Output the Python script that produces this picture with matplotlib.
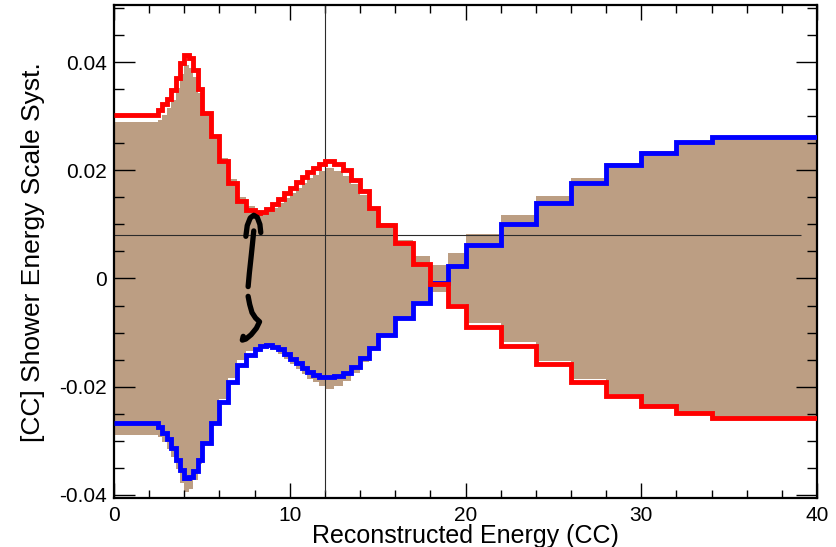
import matplotlib
matplotlib.use("Agg")
import matplotlib.pyplot as plt
import numpy as np

# ======================== DATA ========================
# variable-width bin edges of the reconstructed energy (CC)
edges = [0, 2.5, 2.75, 3.0, 3.25, 3.5, 3.75, 4.0, 4.25, 4.5, 4.75, 5.0,
         5.5, 6.0, 6.5, 7.0, 7.5, 8.0,
         8.333, 8.667, 9.0, 9.333, 9.667, 10.0, 10.333, 10.667, 11.0, 11.333, 11.667, 12.0,
         12.5, 13.0, 13.5, 14.0, 14.5, 15.0,
         16, 17, 18, 19, 20, 22, 24, 26, 28, 30, 32, 34, 40]

# shift "up" (red) and shift "down" (blue)
red = [0.0303, 0.0312, 0.0322, 0.0332, 0.0349, 0.0371, 0.0398, 0.0414, 0.0408, 0.0386, 0.0350,
       0.0307, 0.0263, 0.0217, 0.0177, 0.0143, 0.0127,
       0.0121, 0.0123, 0.0129, 0.0137, 0.0147, 0.0158, 0.0168, 0.0178, 0.0188, 0.0197, 0.0205, 0.0212,
       0.0217, 0.0212, 0.0201, 0.0183, 0.0161, 0.0130,
       0.0099, 0.0066, 0.0027, -0.0011, -0.0050,
       -0.0089, -0.0125, -0.0159, -0.0191, -0.0217, -0.0236, -0.0248, -0.0258]

blue = [-0.0268, -0.0275, -0.0285, -0.0297, -0.0313, -0.0336, -0.0355, -0.0369, -0.0368, -0.0356, -0.0336,
        -0.0305, -0.0268, -0.0228, -0.0191, -0.0160, -0.0141,
        -0.0131, -0.0124, -0.0123, -0.0126, -0.0131, -0.0139, -0.0148, -0.0157, -0.0166, -0.0173, -0.0179, -0.0182,
        -0.0183, -0.0181, -0.0175, -0.0163, -0.0147, -0.0129,
        -0.0104, -0.0073, -0.0046, -0.0009, 0.0024,
        0.0062, 0.0101, 0.0140, 0.0177, 0.0209, 0.0233, 0.0252, 0.0261]

# half width of the symmetric (brown) systematic band
band = [0.0290, 0.0294, 0.0303, 0.0315, 0.0331, 0.0353, 0.0378, 0.0395, 0.0390, 0.0372, 0.0344,
        0.0306, 0.0265, 0.0222, 0.0184, 0.0151, 0.0134,
        0.0126, 0.0123, 0.0126, 0.0131, 0.0139, 0.0148, 0.0158, 0.0167, 0.0177, 0.0185, 0.0192, 0.0198,
        0.0204, 0.0199, 0.0189, 0.0174, 0.0155, 0.0131,
        0.0103, 0.0071, 0.0042, 0.0025, 0.0048,
        0.0082, 0.0118, 0.0152, 0.0185, 0.0214, 0.0235, 0.0251, 0.0258]

x_ticks = [0, 10, 20, 30, 40]
y_ticks = [-0.04, -0.02, 0.0, 0.02, 0.04]
y_tick_labels = ["-0.04", "-0.02", "0", "0.02", "0.04"]

# crosshair position
cross_x = 12.0
cross_y = 0.008

# hand drawn marker strokes (x, y in data units)
stroke_hook_x = [7.50, 7.58, 7.75, 7.95, 8.15, 8.30, 8.35]
stroke_hook_y = [0.0078, 0.0098, 0.0112, 0.0117, 0.0113, 0.0100, 0.0085]
stroke_stem_x = [7.95, 7.88, 7.80, 7.70, 7.63]
stroke_stem_y = [0.0088, 0.0065, 0.0040, 0.0010, -0.0015]
stroke_tail_x = [7.63, 7.72, 7.85, 8.05, 8.28, 8.10, 7.80, 7.50, 7.30, 7.35]
stroke_tail_y = [-0.0033, -0.0048, -0.0063, -0.0073, -0.0080, -0.0092, -0.0104, -0.0112, -0.0114, -0.0107]

# ======================== FIGURE ========================
plt.rcParams['font.family'] = ['Liberation Sans', 'DejaVu Sans']

fig = plt.figure(figsize=(8.36, 5.47), dpi=100)
ax = fig.add_axes([0.1364, 0.0896, 0.8409, 0.9004])

band = np.array(band)
ax.stairs(band, edges, baseline=-band, fill=True, color='#bc9e83', lw=0, zorder=1)

ax.vlines(cross_x, -0.0394, 0.0505, color='#2b2b2b', lw=0.8, zorder=2)
ax.hlines(cross_y, 0, 39.1, color='#2b2b2b', lw=0.8, zorder=2)

ax.stairs(blue, edges, baseline=None, color='#0000ff', lw=3.5, zorder=3)
ax.stairs(red, edges, baseline=None, color='#ff0000', lw=3.5, zorder=4)

for sx, sy in [(stroke_hook_x, stroke_hook_y), (stroke_stem_x, stroke_stem_y),
               (stroke_tail_x, stroke_tail_y)]:
    ax.plot(sx, sy, color='black', lw=3.8, solid_capstyle='round', zorder=5)

# ======================== AXES (ROOT look) ========================
ax.set_xlim(0, 40)
ax.set_ylim(-0.0406, 0.0505)

ax.set_xticks(x_ticks)
ax.set_xticks(np.arange(0, 41, 2), minor=True)
ax.set_yticks(y_ticks)
ax.set_yticklabels(y_tick_labels)
ax.set_yticks(np.arange(-0.04, 0.0501, 0.005), minor=True)

ax.tick_params(which='both', direction='in', top=True, right=True, width=1.0,
               labelsize=15, colors='black')
ax.tick_params(axis='x', which='major', length=11, pad=6)
ax.tick_params(axis='x', which='minor', length=5.5)
ax.tick_params(axis='y', which='major', length=15, pad=5)
ax.tick_params(axis='y', which='minor', length=7.5)

for sp in ax.spines.values():
    sp.set_linewidth(1.6)

ax.set_xlabel('Reconstructed Energy (CC)', fontsize=18)
ax.xaxis.set_label_coords(0.5, -0.052)
ax.set_ylabel('[CC] Shower Energy Scale Syst.', fontsize=19)
ax.yaxis.set_label_coords(-0.098, 0.5)

fig.savefig('out.png', dpi=100)
